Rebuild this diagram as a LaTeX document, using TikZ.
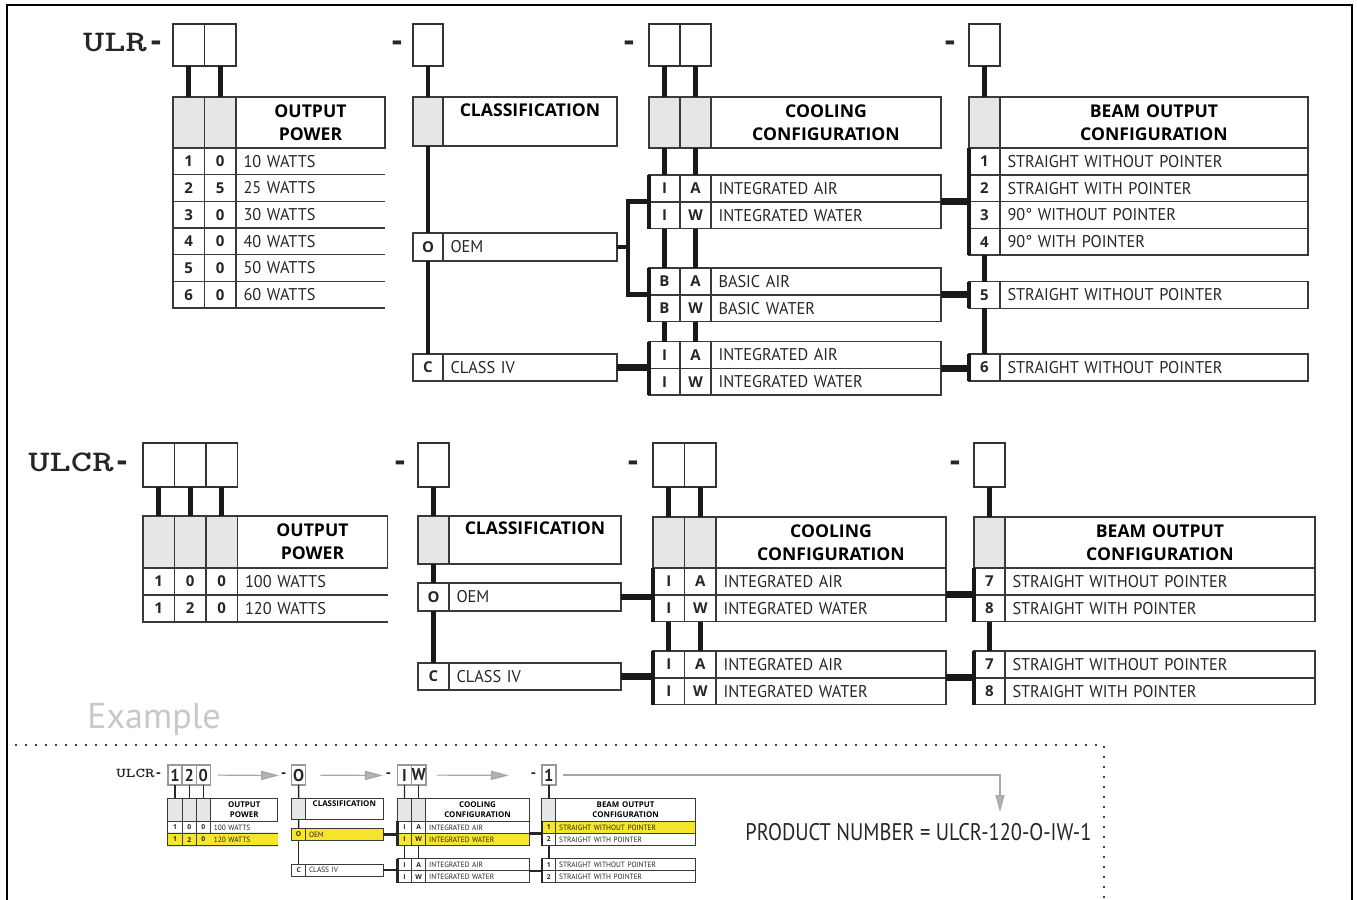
\documentclass[tikz,border=0pt]{standalone}
\usepackage{fontspec}
\setmainfont{PT Sans}[FakeStretch=0.96]
\newfontfamily\headfont{Open Sans}
\newfontfamily\plainfont{PT Sans}
\newfontfamily\narrowfont{PT Sans}[FakeStretch=0.85]
\usetikzlibrary{positioning,arrows.meta}

\definecolor{ink}{HTML}{262626}
\definecolor{rulegray}{HTML}{3A3A3A}
\definecolor{cellgray}{HTML}{E6E6E6}
\definecolor{pickyellow}{HTML}{F7E52B}
\definecolor{examplegray}{HTML}{C8C8C8}

% ULCR order table, drawn full size and again small for the example
% #1-#3 output power, #4 classification, #5 #6 cooling, #7 beam output, #8 #9 beam numbers
\newcommand{\ulcrblock}[9]{%
  \node[serieslabel] (series) at (71,462) {ULCR};
  \node[hyph] (dash0) at (122,463) {-};
  \node[hyph] (dash1) at (400,463) {-};
  \node[hyph] (dash2) at (633,463) {-};
  \node[hyph] (dash3) at (955,463) {-};
  % order boxes
  \node[order, minimum width=15.75pt, minimum height=22pt] (ordop1) at (143,443) {#1};
  \node[order, minimum width=15.75pt, minimum height=22pt] (ordop2) at (174.5,443) {#2};
  \node[order, minimum width=15.75pt, minimum height=22pt] (ordop3) at (206,443) {#3};
  \node[order, minimum width=15.5pt, minimum height=22pt] (ordcl) at (418,443) {#4};
  \node[order, minimum width=15.75pt, minimum height=22pt] (ordcf1) at (653,443) {#5};
  \node[order, minimum width=15.75pt, minimum height=22pt] (ordcf2) at (684.5,443) {#6};
  \node[order, minimum width=15.5pt, minimum height=22pt] (ordbm) at (974,443) {#7};
  % output power
  \node[graycell, minimum width=15.75pt, minimum height=26pt] (oph1) at (143,516) {};
  \node[graycell, minimum width=15.75pt, minimum height=26pt] (oph2) at (174.5,516) {};
  \node[graycell, minimum width=15.75pt, minimum height=26pt] (oph3) at (206,516) {};
  \node[heading, text width=75pt, minimum height=26pt] (opht) at (237.5,516) {OUTPUT\\POWER};
  \node[codecell, minimum width=15.75pt] (opa1) at (143,568) {1};
  \node[codecell, minimum width=15.75pt] (opb1) at (174.5,568) {0};
  \node[codecell, minimum width=15.75pt] (opc1) at (206,568) {0};
  \node[itemcell, draw=none, text width=67.5pt] (opt1) at (237.5,568) {100 WATTS};
  \node[codecell, pick, minimum width=15.75pt] (opa2) at (143,595) {1};
  \node[codecell, pick, minimum width=15.75pt] (opb2) at (174.5,595) {2};
  \node[codecell, pick, minimum width=15.75pt] (opc2) at (206,595) {0};
  \node[itemcell, pick, draw=none, text width=67.5pt] (opt2) at (237.5,595) {120 WATTS};
  \draw[rule] (opa1.south west) -- (opt1.south east);
  \draw[rule] (opa2.south west) -- (opt2.south east);
  % classification
  \node[graycell, minimum width=15.5pt, minimum height=24pt] (clh) at (418,516) {};
  \node[heading, text width=86pt, minimum height=24pt] (clht) at (449,516) {CLASSIFICATION\\\mbox{}};
  \node[codecell, pick, minimum width=15.5pt, minimum height=14pt] (cl1) at (418,583) {O};
  \node[itemcell, pick, text width=78.5pt, minimum height=14pt] (clt1) at (449,583) {OEM};
  \node[codecell, minimum width=15.5pt, minimum height=13.5pt] (cl2) at (418,663) {C};
  \node[itemcell, text width=78.5pt, minimum height=13.5pt] (clt2) at (449,663) {CLASS IV};
  % cooling configuration
  \node[graycell, minimum width=15.75pt, minimum height=25.5pt] (cfh1) at (653,517) {};
  \node[graycell, minimum width=15.75pt, minimum height=25.5pt] (cfh2) at (684.5,517) {};
  \node[heading, text width=115pt, minimum height=25.5pt] (cfht) at (716,517) {COOLING\\CONFIGURATION};
  \node[codecell, minimum width=15.75pt] (cfa1) at (653,568) {I};
  \node[codecell, minimum width=15.75pt] (cfb1) at (684.5,568) {A};
  \node[itemcell, text width=107.5pt] (cft1) at (716,568) {INTEGRATED AIR};
  \node[codecell, pick, minimum width=15.75pt] (cfa2) at (653,594.8) {I};
  \node[codecell, pick, minimum width=15.75pt] (cfb2) at (684.5,594.8) {W};
  \node[itemcell, pick, text width=107.5pt] (cft2) at (716,594.8) {INTEGRATED WATER};
  \node[codecell, minimum width=15.75pt] (cfa3) at (653,651) {I};
  \node[codecell, minimum width=15.75pt] (cfb3) at (684.5,651) {A};
  \node[itemcell, text width=107.5pt] (cft3) at (716,651) {INTEGRATED AIR};
  \node[codecell, minimum width=15.75pt] (cfa4) at (653,677.8) {I};
  \node[codecell, minimum width=15.75pt] (cfb4) at (684.5,677.8) {W};
  \node[itemcell, text width=107.5pt] (cft4) at (716,677.8) {INTEGRATED WATER};
  % beam output configuration
  \node[graycell, minimum width=15.5pt, minimum height=25.5pt] (bmh) at (974,517) {};
  \node[heading, text width=155pt, minimum height=25.5pt] (bmht) at (1005,517) {BEAM OUTPUT\\CONFIGURATION};
  \node[codecell, pick, minimum width=15.5pt] (bmn1) at (974,568) {#8};
  \node[itemcell, pick, text width=147.5pt] (bmt1) at (1005,568) {STRAIGHT WITHOUT POINTER};
  \node[codecell, minimum width=15.5pt] (bmn2) at (974,594.8) {#9};
  \node[itemcell, text width=147.5pt] (bmt2) at (1005,594.8) {STRAIGHT WITH POINTER};
  \node[codecell, minimum width=15.5pt] (bmn3) at (974,651) {#8};
  \node[itemcell, text width=147.5pt] (bmt3) at (1005,651) {STRAIGHT WITHOUT POINTER};
  \node[codecell, minimum width=15.5pt] (bmn4) at (974,677.8) {#9};
  \node[itemcell, text width=147.5pt] (bmt4) at (1005,677.8) {STRAIGHT WITH POINTER};
  % connectors
  \foreach \k/\h in {ordop1/oph1,ordop2/oph2,ordop3/oph3,ordcl/clh,ordcf1/cfh1,ordcf2/cfh2,ordbm/bmh}
    \draw[conn] (\k.south) -- (\h.north);
  \draw[conn] (clh.south) -- (cl1.north);
  \draw[conn] (cl1.south) -- (cl2.north);
  \draw[conn] (cfa2.south) -- (cfa3.north);
  \draw[conn] (cfb2.south) -- (cfb3.north);
  \draw[conn] (bmn2.south) -- (bmn3.north);
  \draw[bar] (cfa1.north west) -- (cfa2.south west);
  \draw[bar] (cfa3.north west) -- (cfa4.south west);
  \draw[bar] (bmn1.north west) -- (bmn2.south west);
  \draw[bar] (bmn3.north west) -- (bmn4.south west);
  \draw[link] (clt1.east) -- (clt1.east -| cfa1.west);
  \draw[link] (clt2.east) -- (clt2.east -| cfa3.west);
  \draw[link] (cft1.south east) -- (cft1.south east -| bmn1.west);
  \draw[link] (cft3.south east) -- (cft3.south east -| bmn3.west);
}

\begin{document}
\begin{tikzpicture}[x=0.5pt, y=-0.5pt]
  \tikzstyle{boxcell}=[draw=rulegray, line width=0.8pt, rectangle, inner sep=0pt, outer sep=0pt, anchor=north west, text=ink]
  \tikzstyle{order}=[boxcell, draw=black!80, minimum height=21pt]
  \tikzstyle{graycell}=[boxcell, fill=cellgray]
  \tikzstyle{heading}=[boxcell, align=center, text=black, font=\headfont\bfseries\fontsize{8.8}{11.5}\selectfont]
  \tikzstyle{codecell}=[boxcell, minimum height=13.4pt, font=\headfont\bfseries\fontsize{7.5}{9}\selectfont]
  \tikzstyle{itemcell}=[boxcell, minimum height=13.4pt, align=left, inner xsep=3.75pt, font=\fontsize{8.5}{9}\selectfont]
  \tikzstyle{serieslabel}=[inner sep=0pt, xscale=1.35, text=black!85, font=\ttfamily\bfseries\fontsize{15}{15}\selectfont]
  \tikzstyle{hyph}=[inner sep=0pt, yshift=-1.5pt, text=black!85, font=\headfont\bfseries\fontsize{16}{16}\selectfont]
  \tikzstyle{conn}=[draw=black!90, line width=2.4pt]
  \tikzstyle{link}=[draw=black!90, line width=3.4pt]
  \tikzstyle{bar}=[draw=black!90, line width=2.4pt]
  \tikzstyle{rule}=[draw=rulegray, line width=0.8pt]
  \tikzstyle{pick}=[]
  \tikzstyle{exarrow}=[draw=black!35, line width=0.6pt, -{Triangle[length=9pt, width=4.6pt, fill=black!30]}]

  \useasboundingbox (0,0) rectangle (1357,900);
  \draw[line width=1pt] (7,900) -- (7,5) -- (1352,5) -- (1352,900);

  % ---------------- ULR ----------------
  \node[serieslabel] (ulr) at (115,42) {ULR};
  \node[hyph] (u0) at (156,43) {-};
  \node[hyph] (u1) at (397,43) {-};
  \node[hyph] (u2) at (629,43) {-};
  \node[hyph] (u3) at (950,43) {-};
  \node[order, minimum width=15.75pt] (ordop1) at (173,24) {};
  \node[order, minimum width=15.75pt, right=0pt of ordop1] (ordop2) {};
  \node[order, minimum width=15pt] (ordcl) at (413,24) {};
  \node[order, minimum width=15.5pt] (ordcf1) at (649,24) {};
  \node[order, minimum width=15.5pt, right=0pt of ordcf1] (ordcf2) {};
  \node[order, minimum width=15.5pt] (ordbm) at (969,24) {};

  % output power
  \node[graycell, minimum width=15.75pt, minimum height=25.5pt] (oph1) at (173,97) {};
  \node[graycell, minimum width=15.75pt, minimum height=25.5pt, right=0pt of oph1] (oph2) {};
  \node[heading, text width=74.5pt, minimum height=25.5pt, right=0pt of oph2] (opht) {OUTPUT\\POWER};
  \foreach \a/\b/\w [count=\i] in {1/0/10,2/5/25,3/0/30,4/0/40,5/0/50,6/0/60}{
    \node[codecell, minimum width=15.75pt, minimum height=13.33pt] (opa\i) at (173,{148+(\i-1)*26.67}) {\a};
    \node[codecell, minimum width=15.75pt, minimum height=13.33pt, right=0pt of opa\i] (opb\i) {\b};
    \node[itemcell, draw=none, text width=67pt, minimum height=13.33pt, right=0pt of opb\i] (opt\i) {\w\ WATTS};
    \draw[rule] (opa\i.south west) -- (opt\i.south east);
  }

  % classification
  \node[graycell, minimum width=15pt, minimum height=24.5pt] (clh) at (413,97) {};
  \node[heading, text width=87pt, minimum height=24.5pt, right=0pt of clh] (clht) {CLASSIFICATION\\\mbox{}};
  \node[codecell, minimum width=15pt, minimum height=14pt] (cl1) at (413,233) {O};
  \node[itemcell, text width=79.5pt, minimum height=14pt, right=0pt of cl1] (clt1) {OEM};
  \node[codecell, minimum width=15pt, minimum height=13.5pt] (cl2) at (413,354) {C};
  \node[itemcell, text width=79.5pt, minimum height=13.5pt, right=0pt of cl2] (clt2) {CLASS IV};

  % cooling configuration
  \node[graycell, minimum width=15.5pt, minimum height=25.5pt] (cfh1) at (649,97) {};
  \node[graycell, minimum width=15.5pt, minimum height=25.5pt, right=0pt of cfh1] (cfh2) {};
  \node[heading, text width=115pt, minimum height=25.5pt, right=0pt of cfh2] (cfht) {COOLING\\CONFIGURATION};
  \foreach \y/\a/\b/\w [count=\i] in {175/I/A/INTEGRATED AIR,201.8/I/W/INTEGRATED WATER,268/B/A/BASIC AIR,294.8/B/W/BASIC WATER,341.5/I/A/INTEGRATED AIR,368.3/I/W/INTEGRATED WATER}{
    \node[codecell, minimum width=15.5pt] (cfa\i) at (649,\y) {\a};
    \node[codecell, minimum width=15.5pt, right=0pt of cfa\i] (cfb\i) {\b};
    \node[itemcell, text width=107.5pt, right=0pt of cfb\i] (cft\i) {\w};
  }

  % beam output configuration
  \node[graycell, minimum width=15.5pt, minimum height=25.5pt] (bmh) at (969,97) {};
  \node[heading, text width=154pt, minimum height=25.5pt, right=0pt of bmh] (bmht) {BEAM OUTPUT\\CONFIGURATION};
  \foreach \y/\n/\w [count=\i] in {148/1/STRAIGHT WITHOUT POINTER,174.8/2/STRAIGHT WITH POINTER,201.6/3/90° WITHOUT POINTER,228.4/4/90° WITH POINTER,281.5/5/STRAIGHT WITHOUT POINTER,354/6/STRAIGHT WITHOUT POINTER}{
    \node[codecell, minimum width=15.5pt] (bmn\i) at (969,\y) {\n};
    \node[itemcell, text width=146.5pt, right=0pt of bmn\i] (bmt\i) {\w};
  }

  % connectors
  \foreach \k/\h in {ordop1/oph1,ordop2/oph2,ordcl/clh,ordcf1/cfh1,ordcf2/cfh2,ordbm/bmh}
    \draw[conn] (\k.south) -- (\h.north);
  \draw[conn] (clh.south) -- (cl1.north);
  \draw[conn] (cl1.south) -- (cl2.north);
  \draw[conn] (cfh1.south) -- (cfa1.north);
  \draw[conn] (cfh2.south) -- (cfb1.north);
  \draw[conn] (cfa2.south) -- (cfa3.north);
  \draw[conn] (cfb2.south) -- (cfb3.north);
  \draw[conn] (cfa4.south) -- (cfa5.north);
  \draw[conn] (cfb4.south) -- (cfb5.north);
  \draw[conn] (bmn4.south) -- (bmn5.north);
  \draw[conn] (bmn5.south) -- (bmn6.north);
  \draw[bar] (cfa1.north west) -- (cfa2.south west);
  \draw[bar] (cfa3.north west) -- (cfa4.south west);
  \draw[bar] (cfa5.north west) -- (cfa6.south west);
  \draw[bar] (bmn1.north west) -- (bmn4.south west);
  \draw[bar] (bmn5.north west) -- (bmn5.south west);
  \draw[bar] (bmn6.north west) -- (bmn6.south west);
  \coordinate (fork) at (628,247);
  \draw[conn] (clt1.east) -- (fork);
  \draw[conn] (cfa1.south west) -| (fork) |- (cfa3.south west);
  \draw[link] (clt2.east) -- (clt2.east -| cfa5.west);
  \draw[link] (cft1.south east) -- (cft1.south east -| bmn2.west);
  \draw[link] (cft3.south east) -- (cft3.south east -| bmn5.west);
  \draw[link] (cft5.south east) -- (cft5.south east -| bmn6.west);

  % ---------------- ULCR ----------------
  \begin{scope}[name prefix=ulcr-]
    \ulcrblock{}{}{}{}{}{}{}{7}{8}
  \end{scope}

  % ---------------- example ----------------
  \node[anchor=base west, inner sep=0pt, text=examplegray, font=\plainfont\fontsize{18}{18}\selectfont] (extitle) at (87,728) {Example};
  \draw[black!75, line width=0.9pt, dash pattern=on 1.2pt off 3.8pt] (15,745) -- (1104,745) -- (1104,900);

  \begin{scope}[shift={(103.6,565.8)}, scale=0.45, transform shape, name prefix=ex-,
      boxcell/.append style={line width=0.5pt},
      order/.append style={draw=black!40, line width=0.7pt, text=black!85, font=\bfseries\fontsize{19}{19}\selectfont},
      conn/.style={draw=black!85, line width=0.7pt},
      link/.style={draw=black!85, line width=1.1pt},
      bar/.style={draw=black!85, line width=1.1pt},
      rule/.style={draw=rulegray, line width=0.5pt},
      pick/.style={fill=pickyellow}]
    \ulcrblock{1}{2}{0}{O}{I}{W}{1}{1}{2}
  \end{scope}

  \draw[exarrow, shorten <=3.75pt, shorten >=1pt] (ex-ordop3.east) -- (ex-dash1.west);
  \draw[exarrow, shorten <=7.2pt, shorten >=1.5pt] (ex-ordcl.east) -- (ex-dash2.west);
  \draw[exarrow, shorten <=5.6pt, shorten >=11pt] (ex-ordcf2.east) -- (ex-dash3.west);
  \coordinate (pnend) at (1000,812);
  \draw[exarrow, shorten <=3.5pt, -{Triangle[length=8.5pt, width=4.5pt, fill=black!30]}] (ex-ordbm.east) -| (pnend);
  \node[anchor=west, inner sep=0pt, text=ink, font=\narrowfont\fontsize{12}{12}\selectfont] (prodnum) at (745,832) {PRODUCT NUMBER = ULCR-120-O-IW-1};
\end{tikzpicture}
\end{document}
